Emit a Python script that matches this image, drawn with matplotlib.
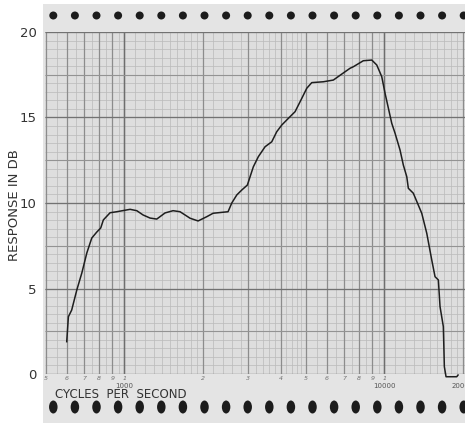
import numpy as np
import matplotlib
matplotlib.use("Agg")
import matplotlib.pyplot as plt
from matplotlib.patches import Rectangle, Ellipse

# frequency response
freq_hz = [600, 609, 627, 656, 686, 717, 749, 783, 811, 830, 881, 935,
           1052, 1116, 1180, 1255, 1332, 1434, 1539, 1637, 1789, 1921,
           2075, 2194, 2505, 2589, 2706, 2829, 2972, 3134, 3276, 3477,
           3689, 3856, 4031, 4338, 4535, 4813, 5030, 5258, 5827, 6366,
           6859, 7382, 7601, 8302, 8946, 9350, 9772, 10062, 10678, 10995,
           11490, 11832, 12196, 12369, 12927, 13927, 14560, 15217, 15668,
           16134, 16377, 16863, 17015, 17272, 18990, 19210]
response_db = [1.89, 3.35, 3.74, 4.91, 5.91, 7.08, 7.95, 8.30, 8.54, 9.01, 9.43, 9.49,
               9.63, 9.55, 9.30, 9.12, 9.06, 9.42, 9.55, 9.49, 9.11, 8.95,
               9.20, 9.40, 9.49, 10.0, 10.47, 10.76, 11.05, 12.12, 12.71, 13.29,
               13.58, 14.17, 14.56, 15.05, 15.34, 16.12, 16.71, 17.04, 17.09, 17.19,
               17.54, 17.88, 17.97, 18.32, 18.36, 18.07, 17.39, 16.42, 14.66, 14.08,
               13.10, 12.22, 11.54, 10.86, 10.57, 9.40, 8.23, 6.67, 5.69,
               5.50, 3.94, 2.77, 0.43, -0.16, -0.16, -0.06]

y_ticks = [0, 5, 10, 15, 20]
y_labels = ["0", "5", "10", "15", "20"]
x_small_ticks = [500, 600, 700, 800, 900, 1000, 2000, 3000, 4000, 5000,
                 6000, 7000, 8000, 9000, 10000]
x_small_labels = ["5", "6", "7", "8", "9", "1", "2", "3", "4", "5",
                  "6", "7", "8", "9", "1"]
x_decade_ticks = [1000, 10000, 20000]
x_decade_labels = ["1000", "10000", "20000"]

W, H = 465, 423
fig = plt.figure(figsize=(W / 100, H / 100), dpi=100)
fig.patch.set_facecolor("white")

def fx(px):
    return px / W

def fy(py):
    return 1 - py / H

# paper strip
fig.patches.append(Rectangle((fx(43), 0), 1 - fx(43), fy(4), transform=fig.transFigure,
                             facecolor="#e4e4e4", edgecolor="none", zorder=-3))

# sprocket holes
for cx in np.arange(53.3, W + 10, 21.6):
    fig.patches.append(Ellipse((cx / 100, (H - 15.5) / 100), 0.08, 0.08,
                               transform=fig.dpi_scale_trans, facecolor="#1c1c1c",
                               edgecolor="none", zorder=-2))
    fig.patches.append(Ellipse((cx / 100, (H - 407) / 100), 0.085, 0.13,
                               transform=fig.dpi_scale_trans, facecolor="#1c1c1c",
                               edgecolor="none", zorder=-2))

ax = fig.add_axes([fx(45), fy(374), fx(465) - fx(45), fy(32) - fy(374)])
ax.set_zorder(1)
ax.set_facecolor("#dedede")
ax.set_xscale("log")
ax.set_xlim(495, 20430)
ax.set_ylim(0, 20)

# chart paper grid
minor_x = np.concatenate([np.arange(500, 1000, 50), np.arange(1000, 2000, 100),
                          np.arange(2000, 5000, 200), np.arange(5000, 10000, 500),
                          np.arange(10000, 21000, 1000)])
ax.vlines(minor_x, 0, 20, colors="#bababa", linewidth=0.5, zorder=1)
major_x = np.concatenate([np.arange(500, 1000, 100), np.arange(1000, 10000, 1000),
                          [10000, 20000]])
ax.vlines(major_x, 0, 20, colors="#8c8c8c", linewidth=0.9, zorder=2)
ax.vlines([1000, 10000], 0, 20, colors="#6e6e6e", linewidth=1.0, zorder=2)
ax.hlines(np.arange(0, 20.1, 0.5), 495, 20430, colors="#bababa", linewidth=0.5, zorder=1)
ax.hlines(np.arange(0, 20.1, 2.5), 495, 20430, colors="#939393", linewidth=0.8, zorder=2)
ax.hlines(np.arange(0, 20.1, 5), 495, 20430, colors="#727272", linewidth=0.9, zorder=2)

ax.plot(freq_hz, response_db, color="#1e1e1e", linewidth=1.1, zorder=5, clip_on=False)

for s in ax.spines.values():
    s.set_visible(False)
ax.set_xticks([])
ax.set_xticks([], minor=True)
ax.set_yticks(y_ticks)
ax.set_yticklabels(y_labels)
ax.tick_params(axis="y", length=0, pad=6, labelsize=9.5, labelcolor="#333333")

fig.text(fx(14), fy(205), "RESPONSE IN DB", rotation=90, ha="center", va="center",
         fontsize=9.5, color="#333333")

for f, lab in zip(x_small_ticks, x_small_labels):
    ax.text(f, -0.1, lab, ha="center", va="top", fontsize=4.5, color="#707070",
            fontstyle="italic", clip_on=False)
for f, lab in zip(x_decade_ticks, x_decade_labels):
    ax.text(f, -0.5, lab, ha="center", va="top", fontsize=5, color="#555555",
            clip_on=False)

fig.text(fx(55), fy(394.5), "CYCLES  PER  SECOND", ha="left", va="center",
         fontsize=8.5, color="#333333")

fig.savefig("out.png", dpi=100)
